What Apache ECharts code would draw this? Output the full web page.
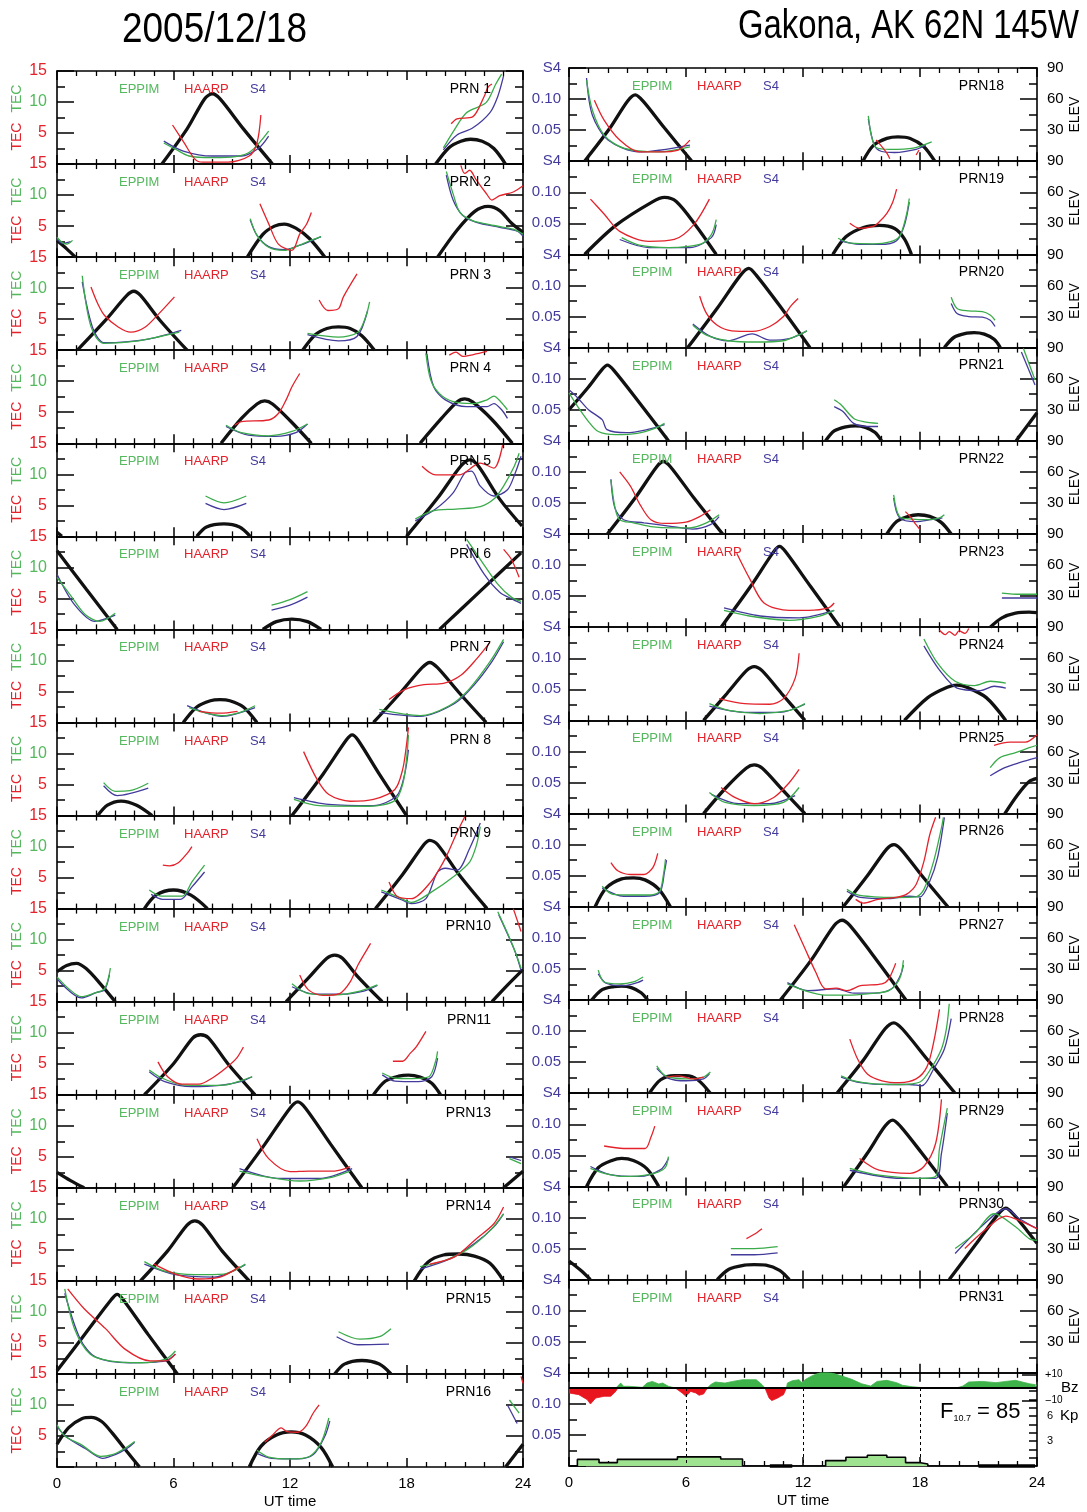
<!DOCTYPE html>
<html>
<head>
<meta charset="utf-8">
<script src="https://cdn.jsdelivr.net/npm/echarts@6.0.0/dist/echarts.min.js"></script>
<style>
html,body{margin:0;padding:0;background:#fff;}
#chart{width:1087px;height:1512px;}
</style>
</head>
<body>
<div id="chart"></div>
<script>
// ---------------------------------------------------------------
// Tick labels
// ---------------------------------------------------------------
const HOUR_TICKS = [0, 6, 12, 18, 24];
const TEC_TICKS = [5, 10, 15];
const S4_TICKS = [0.05, 0.10, 0.15];
const S4_TICK_TEXT = ['0.05', '0.10', 'S4'];
const ELEV_TICKS = [30, 60, 90];
const BZ_TICKS = [-10, 10];
const BZ_NAME_AT = [0];
const KP_TICKS = [3, 6];
const KP_MINOR = [1, 2, 3, 4, 5, 6, 7, 8, 9];
const TIME_MARKS = [6, 12, 18];

// ---------------------------------------------------------------
// Satellite passes: [UT hour, value]; one inner list per pass.
// ELEV in degrees, EPPIM / HAARP in TEC units, S4 index.
// ---------------------------------------------------------------
const PRN01_ELEV = [[[5.4,0],[6.7,34],[7.6,63],[8.0,68],[8.4,63],[9.6,34],[11.1,0]],
  [[19.5,0],[20.2,16],[20.8,22],[21.3,24],[21.9,22],[22.5,15],[23.1,0]]];
const PRN01_EPPIM = [[[5.5,3.4],[6.1,2.4],[6.8,1.3],[8.0,1.05],[9.2,1.2],[10.0,2.1],[10.9,5.3]],
  [[19.9,2.6],[20.4,5.2],[21.1,8.3],[22.1,9.9],[22.6,12.9],[22.9,14.5]]];
const PRN01_HAARP = [[[5.95,6.3],[6.55,3.4],[7.1,0.8],[7.5,0.3],[8.8,0.3],[9.9,1.3],[10.3,3.4],[10.5,7.9]],
  [[20.3,6.5],[20.6,7.3],[21.4,7.6],[22.0,10.9],[22.2,12.4],[22.4,12.9]]];
const PRN01_S4 = [[[5.5,.037],[6.5,.021],[8.0,.013],[9.5,.013],[10.4,.026],[10.9,.045]],
  [[19.9,.023],[20.6,.047],[21.4,.058],[22.3,.083],[22.7,.109],[23.0,.142]]];

const PRN02_ELEV = [[[0,16],[0.5,8],[0.95,0]],
  [[9.8,0],[10.6,22],[11.2,30],[11.7,32],[12.3,28],[13.0,18],[13.8,0]],
  [[19.6,0],[20.6,26],[21.5,44],[22.2,49],[22.8,45],[23.4,33],[24,24]]];
const PRN02_EPPIM = [[[0,3.2],[0.25,2.4],[0.5,2.1],[0.8,2.7]],
  [[9.95,6.2],[10.3,3.5],[10.9,1.6],[11.7,1.1],[12.4,1.8],[13.0,2.6],[13.6,3.3]],
  [[20.05,13.8],[20.4,10.2],[20.75,7.2],[21.4,5.9],[22.5,5.1],[23.5,4.5],[24,3.7]]];
const PRN02_HAARP = [[[10.45,8.6],[10.9,5.4],[11.4,2.1],[12.1,1.1],[12.5,3.7],[12.85,5.3],[13.1,7.2]],
  [[20.8,14.8],[21.0,13.5],[21.25,14],[21.6,12.4],[22.1,10.3],[22.4,9.2],[22.8,9.9],[23.5,10.5],[24,11.5]]];
const PRN02_S4 = [[[0,.029],[0.3,.022],[0.7,.025]],
  [[9.95,.06],[10.3,.035],[10.9,.017],[11.7,.012],[12.4,.018],[13.0,.025],[13.6,.033]],
  [[20.05,.132],[20.4,.092],[20.9,.067],[21.6,.056],[22.8,.048],[23.7,.042],[24,.034]]];

const PRN03_ELEV = [[[1.05,0],[2.5,29],[3.6,53],[3.95,57],[4.3,53],[5.3,29],[6.7,0]],
  [[12.65,0],[13.3,15],[13.9,21],[14.5,22.5],[15.1,21],[15.7,14],[16.35,0]]];
const PRN03_EPPIM = [[[1.3,12],[1.75,3.8],[2.4,1.1],[4.2,1.5],[6.3,2.9]],
  [[12.9,2.7],[14.5,2.1],[15.5,2.9],[15.9,5.4],[16.1,7.8]]];
const PRN03_HAARP = [[[1.75,10.2],[2.1,7.5],[2.45,5.6],[3.15,3.75],[3.8,2.9],[4.55,3.75],[5.25,5.9],[6.05,8.6]],
  [[13.5,8.1],[13.95,6.4],[14.5,6.7],[14.75,8.6],[15.45,12.3]]];
const PRN03_S4 = [[[1.3,.11],[1.85,.035],[2.45,.012],[4.55,.017],[6.4,.032]],
  [[12.9,.025],[14.5,.015],[15.45,.022],[16.0,.064]]];

const PRN04_ELEV = [[[8.45,0],[9.5,24],[10.3,38],[10.7,41],[11.1,38],[12.0,22],[13.1,0]],
  [[18.7,0],[19.8,24],[20.6,40],[21.0,43],[21.4,40],[22.4,23],[23.45,0]]];
const PRN04_EPPIM = [[[8.7,2.9],[9.5,1.7],[10.9,1.2],[12.1,1.9],[12.9,3.1]],
  [[19.0,14.5],[19.25,10.2],[19.7,8],[20.4,6.7],[21.45,6.4],[22.15,7],[22.5,7.6],[22.85,6.7],[23.2,5.4]]];
const PRN04_HAARP = [[[9.15,2.9],[9.5,3.5],[10.9,3.75],[11.4,4.8],[11.8,7],[12.1,9.1],[12.5,11.25]],
  [[20.2,14.2],[20.55,14.7],[20.9,14.0],[21.45,14.3],[22.15,14.8]]];
const PRN04_S4 = [[[8.7,.027],[9.85,.013],[11.25,.011],[12.3,.017],[12.9,.031]],
  [[19.05,.144],[19.4,.091],[20.0,.07],[21.1,.059],[22.15,.059],[22.5,.064],[22.9,.054],[23.2,.04]]];

const PRN05_ELEV = [[[0,4],[0.25,0]],
  [[7.2,0],[7.7,9],[8.6,12],[9.4,9],[9.95,0]],
  [[18.0,0],[19.6,37],[20.8,68],[21.27,74],[21.7,68],[22.8,36],[23.95,10]]];
const PRN05_EPPIM = [[[7.65,6.5],[8.6,5.4],[9.75,6.5]],
  [[18.45,2.8],[19.35,4.1],[20.55,4.4],[21.8,4.8],[22.5,6],[23.0,8.1],[23.55,11.3],[23.8,13.4]]];
const PRN05_HAARP = [[[18.8,11.3],[19.5,9.9],[20.7,9.9],[21.8,11.8],[22.5,11],[22.95,14.7]]];
const PRN05_S4 = [[[7.65,.053],[8.6,.043],[9.75,.053]],
  [[18.45,.025],[19.5,.044],[20.4,.07],[21.0,.102],[21.35,.105],[21.8,.081],[22.5,.065],[23.2,.075],[23.6,.102],[23.9,.129]]];

const PRN06_ELEV = [[[0,76],[1.5,39],[3.1,0]],
  [[10.6,0],[11.3,7.5],[12.1,10],[12.9,7.5],[13.6,0]],
  [[19.7,0],[21.8,37],[23.9,74]]];
const PRN06_EPPIM = [[[0,8.4],[0.67,5.6],[1.45,2.4],[2.2,1.3],[3.0,2.6]],
  [[11.05,3.9],[12.0,4.8],[12.9,6.1]],
  [[21.1,14.5],[21.8,11.3],[22.7,7.3],[23.4,5.2],[23.9,4.5]]];
const PRN06_HAARP = [[[23.0,12.9],[23.4,11.3],[23.8,8.4]]];
const PRN06_S4 = [[[0,.089],[0.9,.04],[1.95,.013],[3.0,.023]],
  [[11.05,.031],[12.0,.039],[12.9,.052]],
  [[21.1,.137],[22.0,.089],[22.8,.06],[23.5,.048],[23.9,.042]]];

const PRN07_ELEV = [[[6.5,0],[7.2,15],[7.9,21],[8.4,22],[8.9,21],[9.6,15],[10.3,0]],
  [[16.3,0],[17.7,29],[18.8,53],[19.2,58],[19.6,53],[20.7,29],[22.1,0]]];
const PRN07_EPPIM = [[[6.8,2.4],[7.6,1.6],[8.5,1.1],[9.4,1.6],[10.2,2.7]],
  [[16.6,2.1],[18.7,1.1],[20.2,2.7],[21.2,5.3],[22.3,9.8],[23.0,13.4]]];
const PRN07_HAARP = [[[7.3,1.8],[8.4,1.5],[9.3,1.8]],
  [[17.1,3.7],[17.9,5.3],[18.9,6.1],[19.9,6.3],[20.8,7.6],[21.6,10.2],[22.3,12.9]]];
const PRN07_S4 = [[[6.7,.027],[8.5,.01],[10.2,.024]],
  [[16.6,.016],[18.7,.01],[20.5,.031],[21.5,.061],[22.4,.098],[23.0,.13]]];

const PRN08_ELEV = [[[2.1,0],[2.6,10],[3.3,14],[4.1,10],[4.9,0]],
  [[12.1,0],[13.7,40],[14.9,73],[15.2,78],[15.5,73],[16.6,40],[18.0,0]]];
const PRN08_EPPIM = [[[2.4,5.3],[3.0,3.9],[3.75,4.0],[4.7,5.2]],
  [[12.2,2.6],[13.5,1.6],[16.1,1.5],[17.4,2.4],[17.8,5],[18.0,9],[18.1,13]]];
const PRN08_HAARP = [[[12.7,10.3],[13.4,5.8],[14.0,3.4],[15.1,2.3],[16.3,2.6],[17.4,4.2],[17.8,7.4],[18.0,11.4],[18.1,14.2]]];
const PRN08_S4 = [[[2.4,.048],[3.1,.032],[4.7,.044]],
  [[12.2,.029],[14.0,.018],[16.3,.016],[17.5,.032],[17.9,.066],[18.1,.106]]];

const PRN09_ELEV = [[[4.5,0],[5.1,13],[6.0,18],[6.9,13],[7.75,0]],
  [[16.4,0],[17.8,33],[18.9,62],[19.2,66],[19.6,62],[20.7,33],[22.15,0]]];
const PRN09_EPPIM = [[[4.75,3],[5.4,2],[6.45,2],[6.95,4.3],[7.6,7]],
  [[16.7,3],[17.55,1.9],[18.25,1],[19.3,2.7],[20.4,5.1],[21.25,7.5],[21.6,10.2],[21.8,13.2]]];
const PRN09_HAARP = [[[5.45,7],[5.8,6.9],[6.25,7.4],[6.7,8.9],[6.95,10]],
  [[17.1,4.3],[17.55,1.9],[18.25,1.6],[19.25,4.3],[20.0,8.1],[20.55,11.9],[21.0,14.8]]];
const PRN09_S4 = [[[4.85,.023],[5.45,.015],[6.35,.015],[6.95,.035],[7.6,.059]],
  [[16.7,.027],[17.7,.015],[18.25,.008],[19.0,.016],[19.6,.059],[20.0,.065],[20.6,.062],[21.25,.097],[21.8,.138]]];

const PRN10_ELEV = [[[0,29],[0.5,35],[1.0,37],[1.5,32],[2.2,18],[3.0,0]],
  [[11.8,0],[13.0,24],[13.9,42],[14.3,45],[14.7,42],[15.5,24],[16.75,0]],
  [[22.4,0],[23.2,16],[24,31]]];
const PRN10_EPPIM = [[[0,4],[0.6,2.1],[1.25,0.8],[1.85,1.3],[2.45,2.1],[2.75,5.4]],
  [[12.1,2.9],[12.95,1.3],[14.4,1.1],[15.6,1.7],[16.5,2.7]],
  [[22.7,14.5],[23.4,9.6],[23.9,5.4]]];
const PRN10_HAARP = [[[12.5,4.3],[12.95,1.9],[13.7,1],[14.55,1.3],[15.1,3.2],[15.5,5.9],[16.0,8.6],[16.15,9.4]],
  [[23.5,15],[23.9,11.3]]];
const PRN10_S4 = [[[0,.037],[1.25,.006],[2.05,.015],[2.45,.019],[2.7,.043]],
  [[12.1,.024],[13.3,.012],[14.7,.012],[15.8,.017],[16.5,.026]],
  [[22.75,.14],[23.6,.08],[23.9,.05]]];

const PRN11_ELEV = [[[4.5,0],[6.0,30],[7.0,55],[7.4,58],[7.8,55],[8.8,30],[10.2,0]],
  [[16.3,0],[16.9,13],[17.6,18],[18.1,19],[18.7,17],[19.3,11],[19.75,0]]];
const PRN11_EPPIM = [[[4.75,4],[5.4,2.7],[6.45,1.6],[7.65,1.5],[8.7,1.6],[9.45,2.25],[10.05,2.9]],
  [[16.75,3.5],[17.4,2.7],[18.25,2.6],[19.15,2.9],[19.5,5.4],[19.6,7]]];
const PRN11_HAARP = [[[5.2,5.3],[5.7,2.9],[6.45,1.7],[7.3,1.7],[8.0,2.7],[8.7,4.3],[9.25,5.9],[9.6,7.7]],
  [[17.3,5.4],[17.8,5.4],[18.2,6.7],[18.5,7.7],[19.0,10.2]]];
const PRN11_S4 = [[[4.75,.037],[5.55,.021],[6.95,.013],[8.4,.015],[9.45,.021],[10.05,.029]],
  [[16.75,.032],[17.4,.022],[18.6,.021],[19.3,.029],[19.6,.059]]];

const PRN13_ELEV = [[[0,15],[0.7,7],[1.4,0]],
  [[9.05,0],[10.7,42],[12.0,77],[12.4,83],[12.8,77],[14.1,42],[15.7,0]],
  [[23.0,0],[24,16]]];
const PRN13_EPPIM = [[[9.4,2.7],[10.7,1.8],[12.5,1.1],[14.0,1.6],[15.1,2.7]],
  [[23.3,4.7],[23.9,3.9]]];
const PRN13_HAARP = [[[10.3,7.9],[10.9,4.7],[12.0,2.6],[13.0,2.7],[14.3,2.7],[15.1,3.4]]];
const PRN13_S4 = [[[9.4,.031],[11.5,.015],[13.5,.015],[15.2,.031]],
  [[23.3,.05],[23.9,.044]]];

const PRN14_ELEV = [[[4.3,0],[5.7,29],[6.7,54],[7.1,58],[7.5,54],[8.5,29],[9.9,0]],
  [[18.4,0],[19.1,18],[19.9,25],[20.7,26],[21.5,24],[22.3,17],[23.0,0]]];
const PRN14_EPPIM = [[[4.5,3.1],[5.5,1.6],[7.1,1.0],[8.6,1.1],[9.7,2.7]],
  [[18.7,2.3],[19.9,3.2],[21.2,5.2],[22.3,8.1],[23.0,10.8]]];
const PRN14_HAARP = [[[5.0,2.7],[6.1,1.1],[7.3,0.3],[8.4,0.6],[9.4,2.3]],
  [[19.2,2.7],[20.5,3.9],[21.6,6.8],[22.5,9.2],[23.0,11.9]]];
const PRN14_S4 = [[[4.5,.027],[6.1,.01],[8.1,.006],[9.7,.026]],
  [[18.7,.019],[20.2,.035],[21.5,.06],[22.5,.087],[23.0,.108]]];

const PRN15_ELEV = [[[0,3],[1.5,40],[2.8,72],[3.1,77],[3.4,72],[4.7,38],[6.2,0]],
  [[14.3,0],[14.8,9.5],[15.7,13],[16.6,9.5],[17.2,0]]];
const PRN15_EPPIM = [[[0.4,13.7],[0.9,7.3],[1.7,3.2],[2.7,2.1],[4.3,1.8],[5.6,2.4],[6.1,3.7]],
  [[14.5,6.8],[15.6,5.6],[16.6,6.0],[17.2,7.3]]];
const PRN15_HAARP = [[[0.55,13.7],[1.4,10.5],[2.5,7.3],[3.5,4.0],[4.8,2.1],[5.6,2.1],[6.1,3.2]]];
const PRN15_S4 = [[[0.4,.13],[1.2,.056],[2.0,.027],[3.75,.018],[5.6,.021],[6.1,.032]],
  [[14.4,.06],[15.5,.047],[17.1,.048]]];

const PRN16_ELEV = [[[0,22],[0.6,38],[1.3,47],[1.76,48],[2.3,44],[2.84,33],[3.6,15],[4.25,0]],
  [[9.9,0],[10.5,20],[11.3,31],[12.05,34],[12.8,31],[13.6,19],[14.2,0]],
  [[23.1,0],[24,22]]];
const PRN16_EPPIM = [[[0,6.8],[0.4,5],[1.25,3.6],[2.25,1.7],[2.85,2],[3.45,2.9],[4.0,4.1]],
  [[10.3,2.7],[10.9,1.6],[12.05,1.3],[13.0,1.7],[13.6,3.9],[14.0,7.9]],
  [[23.3,10.8],[23.8,8.7]]];
const PRN16_HAARP = [[[10.7,4],[11.05,5],[11.55,6.3],[11.85,5.7],[12.4,5.6],[12.8,6.5],[13.2,8.7],[13.5,10]],
  [[23.9,14.6],[24,13.5]]];
const PRN16_S4 = [[[0,.065],[0.5,.048],[1.45,.03],[2.35,.014],[3.0,.02],[3.6,.03],[4.0,.04]],
  [[10.3,.022],[11.05,.014],[12.4,.013],[13.2,.02],[13.8,.05],[14.05,.074]],
  [[23.2,.1],[23.7,.07]]];

const PRN18_ELEV = [[[0.8,0],[2.1,32],[3.0,58],[3.4,64],[3.8,58],[4.9,32],[6.3,0]],
  [[15.07,0],[15.6,15],[16.3,22],[16.87,23.5],[17.5,22],[18.2,14],[18.76,0]]];
const PRN18_EPPIM = [[[0.9,13],[1.2,8.2],[1.8,4.2],[2.8,2.1],[4.6,1.5],[6.2,2.3]],
  [[15.35,7.3],[15.5,4.2],[15.75,2.2],[16.45,1.9],[17.65,2.1],[18.6,3.1]]];
const PRN18_HAARP = [[[1.3,9.8],[1.8,6.6],[2.6,3.4],[3.6,1.5],[4.6,1.5],[5.6,1.8],[6.2,3.4]],
  [[15.75,3.4],[15.9,2.9],[16.3,1.3],[16.45,0.4]],
  [[17.8,1.0],[17.95,1.8]]];
const PRN18_S4 = [[[0.9,.134],[1.2,.074],[2.0,.034],[3.6,.015],[6.2,.026]],
  [[15.35,.068],[15.65,.026],[16.0,.016],[16.7,.014],[17.8,.019],[18.3,.026]]];

const PRN19_ELEV = [[[0.8,0],[2.4,28],[4.3,51],[4.9,55],[5.5,51],[6.5,28],[7.55,0]],
  [[13.53,0],[14.2,17],[15.1,26],[15.93,28],[16.7,25],[17.2,15],[17.56,0]]];
const PRN19_EPPIM = [[[2.7,2.7],[3.6,1.5],[5.1,1.1],[6.7,1.6],[7.3,3.2],[7.55,5.6]],
  [[13.8,2.6],[14.45,1.8],[15.6,1.7],[16.45,2],[16.95,2.9],[17.3,6.3],[17.45,9]]];
const PRN19_HAARP = [[[1.1,8.9],[1.8,6.5],[2.6,3.7],[4.1,2.1],[5.4,2.4],[6.4,4.8],[7.2,8.9]],
  [[14.4,5],[14.9,4.2],[15.6,4.5],[15.9,5.2],[16.3,6.6],[16.6,8.4],[16.8,10.5]]];
const PRN19_S4 = [[[2.6,.024],[4.1,.011],[6.2,.011],[7.3,.027],[7.55,.048]],
  [[13.9,.022],[14.9,.016],[15.95,.016],[16.8,.022],[17.2,.047],[17.45,.084]]];

const PRN20_ELEV = [[[6.09,0],[7.6,38],[8.8,70],[9.22,76.5],[9.6,70],[10.9,38],[12.36,0]],
  [[19.25,0],[19.75,10],[20.4,14],[20.78,14.5],[21.3,13],[21.8,8],[22.12,0]]];
const PRN20_EPPIM = [[[6.35,3.6],[7.05,2],[8.15,1.1],[9.6,0.9],[11.0,1.1],[11.75,2],[12.2,2.7]],
  [[19.6,8.1],[19.9,6.3],[20.5,5.9],[21.2,5.8],[21.6,5.25],[21.85,4.4]]];
const PRN20_HAARP = [[[6.7,8.3],[7.05,5.5],[7.6,3.6],[8.35,2.7],[9.4,2.6],[10.3,3.4],[11.0,5],[11.35,6.6],[11.75,7.9]]];
const PRN20_S4 = [[[6.35,.038],[7.25,.018],[8.15,.011],[9.4,.022],[10.3,.012],[11.35,.015],[12.2,.027]],
  [[19.6,.071],[19.9,.055],[20.5,.05],[21.2,.049],[21.6,.044],[21.85,.034]]];

const PRN21_ELEV = [[[0,30],[1.0,52],[1.7,69],[1.97,73],[2.3,68],[3.6,37],[5.1,0]],
  [[13.16,0],[13.6,9.5],[14.2,13.5],[14.69,14.5],[15.2,13],[15.7,8],[16.03,0]],
  [[22.93,0],[24,27]]];
const PRN21_EPPIM = [[[0,7.7],[0.45,5.5],[1.0,3.1],[1.5,1.5],[2.4,1.0],[3.5,1.2],[4.4,2],[4.9,2.8]],
  [[13.6,6.6],[13.95,5.8],[14.6,3.6],[15.1,3.1],[15.85,2.8]],
  [[23.3,14.9],[23.9,9.8]]];
const PRN21_HAARP = [];
const PRN21_S4 = [[[0,.082],[0.45,.069],[1.0,.05],[1.7,.034],[1.95,.018],[2.95,.013],[4.0,.018],[4.9,.026]],
  [[13.6,.055],[14.05,.047],[14.6,.028],[15.3,.023],[15.85,.023]],
  [[23.2,.143],[23.9,.09]]];

const PRN22_ELEV = [[[1.97,0],[3.4,35],[4.5,65],[4.84,70],[5.2,65],[6.4,35],[7.88,0]],
  [[16.3,0],[16.8,12],[17.4,17],[17.9,18.6],[18.5,17],[19.1,11],[19.6,0]]];
const PRN22_EPPIM = [[[2.15,8.7],[2.35,4.4],[2.6,2.3],[3.3,1.8],[4.2,1.2],[5.3,1.0],[6.2,1.0],[7.05,1.8],[7.7,3.1]],
  [[16.65,6.3],[16.95,2.8],[17.6,2.4],[18.35,2.3],[19.0,2.6],[19.25,3.1]]];
const PRN22_HAARP = [[[2.6,10],[3.15,7.7],[3.65,4.7],[4.2,2.3],[4.95,1.7],[6.0,1.9],[6.7,2.8],[7.25,3.9]],
  [[17.25,3.6],[17.5,2.8],[17.8,1.5],[18.0,0.7]]];
const PRN22_S4 = [[[2.15,.088],[2.35,.042],[2.8,.023],[3.85,.018],[5.3,.012],[6.35,.008],[7.25,.015],[7.7,.028]],
  [[16.65,.058],[16.95,.026],[17.8,.02],[18.55,.023],[19.15,.026]]];

const PRN23_ELEV = [[[7.8,0],[9.3,39],[10.5,73],[10.8,78],[11.1,73],[12.4,39],[13.9,0]],
  [[21.6,0],[22.2,9],[22.9,13.5],[23.6,14.5],[24,14]]];
const PRN23_EPPIM = [[[7.95,2.7],[9.25,1.8],[11.3,1.1],[12.85,1.8],[13.6,2.7]],
  [[22.2,5.5],[23.1,5.3],[24,5.3]]];
const PRN23_HAARP = [[[8.6,11.9],[9.25,7.9],[10.0,3.9],[11.3,2.7],[12.3,2.7],[13.3,3.1],[13.6,3.9]]];
const PRN23_S4 = [[[7.95,.031],[9.8,.018],[11.8,.015],[13.6,.027]],
  [[22.2,.047],[24,.047]]];

const PRN24_ELEV = [[[6.9,0],[8.1,26],[9.1,48],[9.5,52],[9.9,48],[10.9,26],[12.1,0]],
  [[17.2,0],[18.4,22],[19.4,32],[19.9,34],[20.4,32],[21.4,22],[22.4,0]]];
const PRN24_EPPIM = [[[7.2,2.7],[8.2,1.6],[9.8,1.1],[11.3,1.6],[12.1,2.7]],
  [[18.2,13.1],[18.9,9.2],[19.8,6.3],[20.8,5.6],[21.6,6.3],[22.4,6.0]]];
const PRN24_HAARP = [[[7.7,3.5],[9.0,2.7],[10.3,2.6],[11.0,3.5],[11.6,6.8],[11.8,10.8]],
  [[19.0,14.5],[19.3,13.8],[19.5,14.3],[19.8,13.7],[20.0,14.4],[20.3,14.0],[20.5,14.8]]];
const PRN24_S4 = [[[7.2,.023],[9.0,.013],[10.8,.013],[12.1,.026]],
  [[18.2,.12],[19.0,.081],[19.9,.052],[21.1,.048],[21.8,.055],[22.4,.052]]];

const PRN25_ELEV = [[[6.9,0],[8.0,24],[9.1,44],[9.5,47],[9.9,44],[10.9,24],[12.1,0]],
  [[22.35,0],[23.0,18],[23.6,31],[24,34]]];
const PRN25_EPPIM = [[[7.2,3.4],[8.0,1.8],[9.5,1.3],[11.0,1.8],[11.8,4.2]],
  [[21.6,7.4],[22.1,9],[22.9,9.8],[23.6,10.6],[24,11]]];
const PRN25_HAARP = [[[7.8,4.2],[8.5,2.6],[9.5,1.6],[10.5,2.6],[11.3,5],[11.8,7.1]],
  [[21.8,11],[22.6,11.5],[23.4,11.5],[24,12.7]]];
const PRN25_S4 = [[[7.3,.031],[8.7,.016],[10.3,.016],[11.6,.029]],
  [[21.6,.061],[22.35,.074],[23.1,.082],[24,.09]]];

const PRN26_ELEV = [[[1.34,0],[1.9,18],[2.7,27],[3.31,28],[3.9,26],[4.6,17],[5.2,0]],
  [[14.06,0],[15.3,30],[16.3,56],[16.66,60],[17.0,56],[18.1,30],[19.43,0]]];
const PRN26_EPPIM = [[[1.7,3.3],[2.25,2],[3.15,1.9],[4.2,1.9],[4.65,2.5],[4.85,5.3],[4.95,7.7]],
  [[14.25,2.8],[14.8,1.9],[15.65,1.6],[16.75,1.5],[17.8,1.6],[18.2,2.8],[18.7,7.3],[19.1,12.7],[19.2,14.4]]];
const PRN26_HAARP = [[[2.15,7.1],[2.5,5.8],[3.15,5.2],[3.85,5.2],[4.3,6.3],[4.55,8.6]],
  [[14.7,1.2],[15.1,0.6],[15.85,1.2],[16.75,1.5],[17.3,2],[17.8,3.6],[18.2,7.3],[18.5,11.6],[18.8,14.4]]];
const PRN26_S4 = [[[1.7,.03],[2.8,.017],[3.85,.017],[4.65,.023],[4.9,.057],[5.0,.075]],
  [[14.25,.025],[14.95,.015],[16.4,.013],[17.45,.017],[18.0,.016],[18.5,.041],[18.9,.079],[19.25,.144]]];

const PRN27_ELEV = [[[1.16,0],[1.7,10],[2.3,13],[2.69,13.4],[3.2,12],[3.7,7],[4.03,0]],
  [[10.84,0],[12.4,38],[13.6,72],[14.0,77],[14.4,72],[15.8,38],[17.28,0]]];
const PRN27_EPPIM = [[[1.5,4.8],[1.8,2.9],[2.6,2.6],[3.3,2.9],[3.8,3.7]],
  [[11.2,2.6],[12.1,1.5],[13.15,0.8],[14.25,0.8],[15.3,1.0],[16.4,1.5],[16.95,3.4],[17.15,6.4]]];
const PRN27_HAARP = [[[11.55,12.1],[12.1,8.3],[12.65,4.5],[13.15,1.8],[13.7,1.9],[14.25,1.5],[14.95,2.3],[16.05,2.6],[16.4,3.4],[16.75,5.9]]];
const PRN27_S4 = [[[1.5,.042],[1.9,.027],[2.8,.023],[3.5,.028],[3.8,.032]],
  [[11.2,.028],[12.25,.015],[13.7,.018],[14.6,.011],[15.65,.011],[16.55,.018],[17.0,.04],[17.15,.056]]];

const PRN28_ELEV = [[[4.12,0],[4.7,13],[5.4,17],[6.0,17],[6.6,13],[7.25,0]],
  [[13.74,0],[15.1,32],[16.2,62],[16.66,68],[17.1,62],[18.4,32],[19.8,0]]];
const PRN28_EPPIM = [[[4.5,4.4],[4.95,2.8],[6.0,2.3],[6.9,2.6],[7.25,3.4]],
  [[13.95,2.8],[14.6,2],[15.65,1.5],[16.95,1.4],[18.0,1.8],[18.55,3.9],[19.1,7.1],[19.35,10.3],[19.5,14.4]]];
const PRN28_HAARP = [[[5.0,2.6],[5.65,2.8],[6.35,2.3],[6.9,2.6]],
  [[14.4,8.7],[14.8,5.5],[15.3,3.1],[16.05,2],[16.95,1.7],[17.8,2.3],[18.35,4.2],[18.7,8.2],[19.0,13.5]]];
const PRN28_S4 = [[[4.5,.04],[5.1,.024],[6.0,.02],[6.9,.023],[7.2,.031]],
  [[13.95,.026],[14.95,.017],[16.4,.014],[17.45,.014],[18.1,.012],[18.7,.039],[19.25,.071],[19.6,.12]]];

const PRN29_ELEV = [[[0.9,0],[1.5,18],[2.2,25],[2.7,27],[3.3,25],[4.0,17],[4.6,0]],
  [[14.1,0],[15.3,32],[16.2,58],[16.6,64],[17.0,58],[18.1,32],[19.4,0]]];
const PRN29_EPPIM = [[[1.1,2.9],[1.8,2.1],[2.8,1.6],[4.1,1.9],[4.9,2.9],[5.1,4.8]],
  [[14.4,2.9],[15.9,1.8],[18.0,1.3],[18.8,1.6],[19.0,6.1],[19.4,12.6]]];
const PRN29_HAARP = [[[1.8,6.5],[2.8,6.1],[3.9,6.1],[4.2,7.9],[4.4,9.7]],
  [[14.9,4.5],[15.9,2.6],[17.5,2.1],[18.2,3.2],[18.8,6.9],[19.1,14]]];
const PRN29_S4 = [[[1.1,.032],[2.1,.019],[3.6,.016],[4.7,.027],[5.1,.045]],
  [[14.4,.026],[17.0,.013],[18.8,.013],[19.1,.053],[19.4,.118]]];

const PRN30_ELEV = [[[0,18],[0.6,9],[1.1,0]],
  [[7.6,0],[8.2,10],[9.0,14],[9.5,14.5],[10.1,14],[10.8,9],[11.3,0]],
  [[19.5,0],[20.9,35],[22.0,63],[22.4,69],[22.8,63],[23.5,47],[24,35]]];
const PRN30_EPPIM = [[[8.3,5],[9.5,5],[10.7,5.3]],
  [[19.8,5],[20.8,7.4],[21.8,10.6],[22.9,8.5],[23.6,6.6],[24,6.3]]];
const PRN30_HAARP = [[[9.1,6.6],[9.5,7.3],[9.9,8.2]],
  [[20.3,5],[21.3,7.9],[22.4,10.2],[23.1,9.5],[24,8.2]]];
const PRN30_S4 = [[[8.3,.04],[9.5,.04],[10.7,.043]],
  [[19.8,.042],[21.3,.09],[22.4,.114],[23.1,.098],[24,.082]]];

const PRN31_ELEV = [];
const PRN31_EPPIM = [];
const PRN31_HAARP = [];
const PRN31_S4 = [];

// Interplanetary Bz (nT) and Kp index
const BZ_NT = [[0,-3.8],[0.5,-5.1],[0.94,-9],[1.1,-12.3],[1.37,-7.7],[1.8,-6.4],[2.14,-6.4],[2.4,-2.6],[2.5,0],
  [2.65,3.8],[2.8,1.3],[3.1,1.3],[3.76,0.5],[4.0,3.8],[4.27,5.1],[4.6,3.1],[4.8,3.8],[5.1,1.3],[5.45,0],
  [5.8,-3.8],[6.0,-6.4],[6.24,-2.6],[6.5,-3.8],[6.67,-5.6],[6.9,-4.6],[7.1,0],
  [7.26,2.6],[7.5,4.6],[8.0,3.8],[8.4,5.1],[8.9,6.4],[9.6,6.4],[9.9,2.6],[10.05,0],
  [10.26,-7.7],[10.4,-9.7],[10.7,-7.7],[10.85,-6.4],[11.0,-5.1],[11.15,0],
  [11.2,3.8],[11.45,5.6],[11.8,6.4],[11.95,3.8],[12.1,6.4],[12.5,9.7],[13.0,12.5],[13.5,11.5],[14.0,9.2],
  [14.5,6.7],[15.0,3.3],[15.47,1.5],[15.8,5.1],[16.3,5.9],[16.8,4.1],[17.1,2.1],[17.6,1.0],[18.1,0.3],
  [19.0,0.3],[19.9,0.2],[20.2,1.5],[20.5,4.6],[21.2,5.1],[21.9,4.1],[22.4,5.1],[22.9,5.9],[23.6,3.3],[23.9,2.6],[24,2]];
const KP_STEPS = [[0,0],[0.43,0.8],[1.54,0.4],[2.48,0.8],[5.56,1.1],[7.78,0.85],[8.9,0],
  [13.16,0.65],[14.2,1.05],[15.3,1.3],[16.3,1.05],[17.26,0.4],[18.03,0.25],[18.4,0],[24,0]];
const KP_QUIET = [[[10.3,0],[11.45,0]], [[21.0,0],[23.9,0]]];
const F107 = 85;

const LEFT_PANELS = [
  {prn:1, elev:PRN01_ELEV, eppim:PRN01_EPPIM, haarp:PRN01_HAARP, s4:PRN01_S4},
  {prn:2, elev:PRN02_ELEV, eppim:PRN02_EPPIM, haarp:PRN02_HAARP, s4:PRN02_S4},
  {prn:3, elev:PRN03_ELEV, eppim:PRN03_EPPIM, haarp:PRN03_HAARP, s4:PRN03_S4},
  {prn:4, elev:PRN04_ELEV, eppim:PRN04_EPPIM, haarp:PRN04_HAARP, s4:PRN04_S4},
  {prn:5, elev:PRN05_ELEV, eppim:PRN05_EPPIM, haarp:PRN05_HAARP, s4:PRN05_S4},
  {prn:6, elev:PRN06_ELEV, eppim:PRN06_EPPIM, haarp:PRN06_HAARP, s4:PRN06_S4},
  {prn:7, elev:PRN07_ELEV, eppim:PRN07_EPPIM, haarp:PRN07_HAARP, s4:PRN07_S4},
  {prn:8, elev:PRN08_ELEV, eppim:PRN08_EPPIM, haarp:PRN08_HAARP, s4:PRN08_S4},
  {prn:9, elev:PRN09_ELEV, eppim:PRN09_EPPIM, haarp:PRN09_HAARP, s4:PRN09_S4},
  {prn:10, elev:PRN10_ELEV, eppim:PRN10_EPPIM, haarp:PRN10_HAARP, s4:PRN10_S4},
  {prn:11, elev:PRN11_ELEV, eppim:PRN11_EPPIM, haarp:PRN11_HAARP, s4:PRN11_S4},
  {prn:13, elev:PRN13_ELEV, eppim:PRN13_EPPIM, haarp:PRN13_HAARP, s4:PRN13_S4},
  {prn:14, elev:PRN14_ELEV, eppim:PRN14_EPPIM, haarp:PRN14_HAARP, s4:PRN14_S4},
  {prn:15, elev:PRN15_ELEV, eppim:PRN15_EPPIM, haarp:PRN15_HAARP, s4:PRN15_S4},
  {prn:16, elev:PRN16_ELEV, eppim:PRN16_EPPIM, haarp:PRN16_HAARP, s4:PRN16_S4}
];
const RIGHT_PANELS = [
  {prn:18, elev:PRN18_ELEV, eppim:PRN18_EPPIM, haarp:PRN18_HAARP, s4:PRN18_S4},
  {prn:19, elev:PRN19_ELEV, eppim:PRN19_EPPIM, haarp:PRN19_HAARP, s4:PRN19_S4},
  {prn:20, elev:PRN20_ELEV, eppim:PRN20_EPPIM, haarp:PRN20_HAARP, s4:PRN20_S4},
  {prn:21, elev:PRN21_ELEV, eppim:PRN21_EPPIM, haarp:PRN21_HAARP, s4:PRN21_S4},
  {prn:22, elev:PRN22_ELEV, eppim:PRN22_EPPIM, haarp:PRN22_HAARP, s4:PRN22_S4},
  {prn:23, elev:PRN23_ELEV, eppim:PRN23_EPPIM, haarp:PRN23_HAARP, s4:PRN23_S4},
  {prn:24, elev:PRN24_ELEV, eppim:PRN24_EPPIM, haarp:PRN24_HAARP, s4:PRN24_S4},
  {prn:25, elev:PRN25_ELEV, eppim:PRN25_EPPIM, haarp:PRN25_HAARP, s4:PRN25_S4},
  {prn:26, elev:PRN26_ELEV, eppim:PRN26_EPPIM, haarp:PRN26_HAARP, s4:PRN26_S4},
  {prn:27, elev:PRN27_ELEV, eppim:PRN27_EPPIM, haarp:PRN27_HAARP, s4:PRN27_S4},
  {prn:28, elev:PRN28_ELEV, eppim:PRN28_EPPIM, haarp:PRN28_HAARP, s4:PRN28_S4},
  {prn:29, elev:PRN29_ELEV, eppim:PRN29_EPPIM, haarp:PRN29_HAARP, s4:PRN29_S4},
  {prn:30, elev:PRN30_ELEV, eppim:PRN30_EPPIM, haarp:PRN30_HAARP, s4:PRN30_S4},
  {prn:31, elev:PRN31_ELEV, eppim:PRN31_EPPIM, haarp:PRN31_HAARP, s4:PRN31_S4}
];

// ---------------------------------------------------------------
// Styling and layout
// ---------------------------------------------------------------
const FONT = '"Liberation Sans", Arial, sans-serif';
const C_GREEN = '#3aab4a';
const C_GREEN_TXT = '#55b85e';
const C_RED = '#e3222b';
const C_BLUE = '#433b9c';
const C_BLACK = '#111111';
const C_BZ_POS = '#3db34a';
const C_BZ_NEG = '#e8141e';
const C_KP = '#9fe390';

const COLS = {
  L: {x0: 57, x1: 523, top: 71, bottom: 1467, eppimX: 119, haarpX: 184, s4X: 250, prnRight: 491},
  R: {x0: 569, x1: 1037, top: 68, bottom: 1466, eppimX: 632, haarpX: 697, s4X: 763, prnRight: 1004}
};
COLS.L.ph = (COLS.L.bottom - COLS.L.top) / 15;
COLS.R.ph = (COLS.R.bottom - COLS.R.top) / 15;

const grids = [], xAxes = [], yAxes = [], series = [], graphic = [];
const blackLine = {color: '#000', width: 1.6};

function xAxisDef(g, position, showLabel) {
  return {
    gridIndex: g, type: 'value', min: 0, max: 24, interval: 6, position,
    axisLine: {show: true, onZero: false, lineStyle: blackLine},
    axisTick: {show: true, inside: true, length: 9, lineStyle: {color: '#000', width: 1.5}},
    minorTick: {show: true, splitNumber: 6, length: 5, lineStyle: {color: '#000', width: 1.3}},
    splitLine: {show: false}, minorSplitLine: {show: false},
    axisLabel: {
      show: showLabel, margin: 9, color: '#000', fontSize: 15, fontFamily: FONT,
      showMinLabel: true, showMaxLabel: true,
      formatter: v => HOUR_TICKS.indexOf(v) >= 0 ? String(v) : ''
    },
    name: showLabel ? 'UT time' : '', nameLocation: 'middle', nameGap: 27,
    nameTextStyle: {color: '#000', fontSize: 15, fontFamily: FONT}
  };
}

function yAxisDef(g, min, max, interval, position, show) {
  return {
    gridIndex: g, type: 'value', min, max, interval, position, show,
    axisLine: {show: true, onZero: false, lineStyle: blackLine},
    axisTick: {show: true, inside: true, length: 17, lineStyle: {color: '#000', width: 1.5}},
    minorTick: {show: true, splitNumber: 2, length: 8, lineStyle: {color: '#000', width: 1.5}},
    splitLine: {show: false}, minorSplitLine: {show: false},
    axisLabel: {show: false}
  };
}

function tecLabels() {
  return {
    show: true, margin: 10, fontFamily: FONT, fontSize: 16, showMaxLabel: true, showMinLabel: true,
    customValues: TEC_TICKS,
    formatter: v => TEC_TICKS.indexOf(v) < 0 ? '' : (v === 10 ? '{g|' + v + '}' : '{r|' + v + '}'),
    rich: {r: {color: C_RED, fontSize: 16, fontFamily: FONT}, g: {color: C_GREEN_TXT, fontSize: 16, fontFamily: FONT}}
  };
}

function s4Labels() {
  return {
    show: true, margin: 8, fontFamily: FONT, fontSize: 15, color: C_BLUE, showMaxLabel: true, showMinLabel: true,
    customValues: S4_TICKS,
    formatter: v => {
      const k = S4_TICKS.findIndex(t => Math.abs(t - v) < 1e-6);
      return k < 0 ? '' : S4_TICK_TEXT[k];
    }
  };
}

function elevLabels() {
  return {
    show: true, margin: 10, fontFamily: FONT, fontSize: 15, color: '#000', showMaxLabel: true, showMinLabel: true,
    customValues: ELEV_TICKS,
    formatter: v => ELEV_TICKS.indexOf(v) >= 0 ? String(v) : ''
  };
}

function passSeries(passes, xi, yi, color, width, z) {
  passes.forEach(p => {
    series.push({
      type: 'line', xAxisIndex: xi, yAxisIndex: yi, data: p,
      showSymbol: false, symbol: 'none', smooth: 0.3, silent: true, animation: false,
      lineStyle: {color, width}, z
    });
  });
}

function panelText(col, top, prn) {
  const c = COLS[col];
  const base = {type: 'text', silent: true, z: 50};
  graphic.push(Object.assign({}, base, {left: c.eppimX, top: top + 12, style: {text: 'EPPIM', fill: C_GREEN_TXT, font: '13px ' + FONT}}));
  graphic.push(Object.assign({}, base, {left: c.haarpX, top: top + 12, style: {text: 'HAARP', fill: C_RED, font: '13px ' + FONT}}));
  graphic.push(Object.assign({}, base, {left: c.s4X, top: top + 12, style: {text: 'S4', fill: C_BLUE, font: '13px ' + FONT}}));
  const label = 'PRN' + (prn < 10 ? ' ' + prn : String(prn));
  graphic.push(Object.assign({}, base, {right: 1087 - c.prnRight, top: top + 11, style: {text: label, fill: '#000', font: '14px ' + FONT}}));
}

function addGrid(col, row) {
  const c = COLS[col];
  const top = c.top + row * c.ph;
  const g = grids.length;
  grids.push({left: c.x0, top: top, width: c.x1 - c.x0, height: c.ph, containLabel: false, outerBoundsMode: 'none'});
  const isBottom = row === 14;
  const xb = xAxes.length;
  xAxes.push(xAxisDef(g, 'bottom', isBottom));
  xAxes.push(xAxisDef(g, 'top', false));
  return {g, top, xb};
}

function addPanel(col, row, panel) {
  const {g, top, xb} = addGrid(col, row);
  const yTec = yAxes.length;
  const tec = yAxisDef(g, 0, 15, 5, 'left', col === 'L');
  if (col === 'L') {
    tec.axisLabel = tecLabels();
    tec.name = '{r|TEC}   {g|TEC}';
    tec.nameLocation = 'middle';
    tec.nameRotate = 90;
    tec.nameGap = 33;
    tec.nameTextStyle = {rich: {r: {color: C_RED, fontSize: 14, fontFamily: FONT}, g: {color: C_GREEN_TXT, fontSize: 14, fontFamily: FONT}}};
  }
  yAxes.push(tec);
  const yS4 = yAxes.length;
  const s4 = yAxisDef(g, 0, 0.15, 0.05, col === 'L' ? 'right' : 'left', true);
  if (col === 'R') s4.axisLabel = s4Labels();
  yAxes.push(s4);
  const yElev = yAxes.length;
  const el = yAxisDef(g, 0, 90, 30, 'right', col === 'R');
  if (col === 'R') {
    el.axisLabel = elevLabels();
    el.name = 'ELEV';
    el.nameLocation = 'middle';
    el.nameRotate = 90;
    el.nameGap = 31;
    el.nameTextStyle = {color: '#000', fontSize: 14, fontFamily: FONT};
  }
  yAxes.push(el);

  passSeries(panel.elev, xb, yElev, C_BLACK, 3.3, 2);
  passSeries(panel.s4, xb, yS4, C_BLUE, 1.3, 3);
  passSeries(panel.eppim, xb, yTec, C_GREEN, 1.3, 4);
  passSeries(panel.haarp, xb, yTec, C_RED, 1.3, 5);
  panelText(col, top, panel.prn);
}

LEFT_PANELS.forEach((p, i) => addPanel('L', i, p));
RIGHT_PANELS.forEach((p, i) => addPanel('R', i, p));

// Solar-wind / geomagnetic panel
const bzPanel = addGrid('R', 14);
const bzG = bzPanel.g;
{
  const s4 = yAxisDef(bzG, 0, 0.15, 0.05, 'left', true);
  s4.axisLabel = s4Labels();
  yAxes.push(s4);
}
// Bz scale: ticks and +/-10 labels
const yBz = yAxes.length;
yAxes.push({
  gridIndex: bzG, type: 'value', min: -60, max: 11.7, interval: 10, position: 'right',
  axisLine: {show: false, onZero: false},
  axisTick: {show: true, inside: true, length: 15, customValues: BZ_TICKS, lineStyle: {color: '#000', width: 1.5}},
  splitLine: {show: false},
  axisLabel: {
    show: true, margin: 8, customValues: BZ_TICKS, showMaxLabel: true, showMinLabel: true, hideOverlap: false,
    formatter: v => v === 10 ? '{p|+}{sup|10}' : v === -10 ? '{p|\u2212}{sup|10}' : '',
    rich: {
      p: {fontSize: 11, fontFamily: FONT, color: '#000', lineHeight: 12},
      sup: {fontSize: 10, fontFamily: FONT, color: '#000', verticalAlign: 'top', lineHeight: 12, padding: [0, 0, 4, 0]}
    }
  }
});
// Same Bz scale, carrying only the "Bz" caption at zero
yAxes.push({
  gridIndex: bzG, type: 'value', min: -60, max: 11.7, position: 'right',
  axisLine: {show: false, onZero: false}, axisTick: {show: false}, splitLine: {show: false},
  axisLabel: {
    show: true, margin: 24, customValues: BZ_NAME_AT, showMaxLabel: true, showMinLabel: true,
    formatter: v => v === 0 ? 'Bz' : '',
    fontSize: 15, fontFamily: FONT, color: '#000'
  }
});
const yKp = yAxes.length;
yAxes.push({
  gridIndex: bzG, type: 'value', min: 0, max: 11.2, interval: 1, position: 'right',
  axisLine: {show: true, onZero: false, lineStyle: blackLine},
  axisTick: {show: true, inside: true, length: 8, customValues: KP_MINOR, lineStyle: {color: '#000', width: 1.5}},
  splitLine: {show: false},
  axisLabel: {
    show: true, margin: 10, customValues: KP_TICKS, showMaxLabel: true, showMinLabel: true,
    formatter: v => v === 6 ? '{n|6}{k|Kp}' : v === 3 ? '{n|3}' : '',
    rich: {
      n: {fontSize: 11, fontFamily: FONT, color: '#000'},
      k: {fontSize: 15, fontFamily: FONT, color: '#000', padding: [0, 0, 0, 7]}
    }
  }
});

series.push({
  type: 'line', step: 'end', xAxisIndex: bzPanel.xb, yAxisIndex: yKp, data: KP_STEPS,
  showSymbol: false, symbol: 'none', silent: true, animation: false,
  lineStyle: {color: '#000', width: 1.6}, areaStyle: {color: C_KP, opacity: 1}, z: 2
});
KP_QUIET.forEach(seg => series.push({
  type: 'line', xAxisIndex: bzPanel.xb, yAxisIndex: yKp, data: seg, clip: false,
  showSymbol: false, symbol: 'none', silent: true, animation: false,
  lineStyle: {color: '#000', width: 3.5}, z: 6
}));

// Bz drawn as two filled traces: northward part green, southward part red
const bzNorth = BZ_NT.map(([t, v]) => [t, v > 0 ? v : 0]);
const bzSouth = BZ_NT.map(([t, v]) => [t, v < 0 ? v : 0]);
series.push({
  type: 'line', xAxisIndex: bzPanel.xb, yAxisIndex: yBz, data: bzNorth,
  showSymbol: false, symbol: 'none', silent: true, animation: false,
  lineStyle: {color: C_BZ_POS, width: 0.8}, areaStyle: {color: C_BZ_POS, opacity: 1}, z: 3
});
series.push({
  type: 'line', xAxisIndex: bzPanel.xb, yAxisIndex: yBz, data: bzSouth,
  showSymbol: false, symbol: 'none', silent: true, animation: false,
  lineStyle: {color: C_BZ_NEG, width: 0.8}, areaStyle: {color: C_BZ_NEG, opacity: 1}, z: 3,
  markLine: {
    silent: true, symbol: ['none', 'none'], animation: false, label: {show: false},
    data: [
      {yAxis: 0, lineStyle: {color: '#000', width: 2, type: 'solid'}}
    ].concat(TIME_MARKS.map(h => [
      {coord: [h, 0], lineStyle: {color: '#000', width: 1, type: [3, 3]}},
      {coord: [h, -60]}
    ]))
  }
});

// Titles and annotations
graphic.push({type: 'text', x: 122, y: 9, scaleX: 0.88, silent: true,
  style: {text: '2005/12/18', fill: '#000', font: '42px ' + FONT, verticalAlign: 'top', textVerticalAlign: 'top'}});
graphic.push({type: 'text', x: 1079, y: 7, scaleX: 0.82, silent: true,
  style: {text: 'Gakona, AK 62N 145W', fill: '#000', font: '40px ' + FONT, align: 'right', textAlign: 'right', verticalAlign: 'top', textVerticalAlign: 'top'}});
graphic.push({type: 'text', left: 940, top: 1401, silent: true, z: 50,
  style: {
    text: '{f|F}{s|10.7}{f| = ' + F107 + '}',
    rich: {
      f: {fontSize: 22, fontFamily: FONT, color: '#000'},
      s: {fontSize: 9, fontFamily: FONT, color: '#000', verticalAlign: 'bottom', padding: [10, 0, 0, 0]}
    }
  }});

const chart = echarts.init(document.getElementById('chart'), null, {renderer: 'canvas'});
chart.setOption({
  animation: false,
  backgroundColor: '#fff',
  grid: grids,
  xAxis: xAxes,
  yAxis: yAxes,
  series,
  graphic
});
</script>
</body>
</html>
